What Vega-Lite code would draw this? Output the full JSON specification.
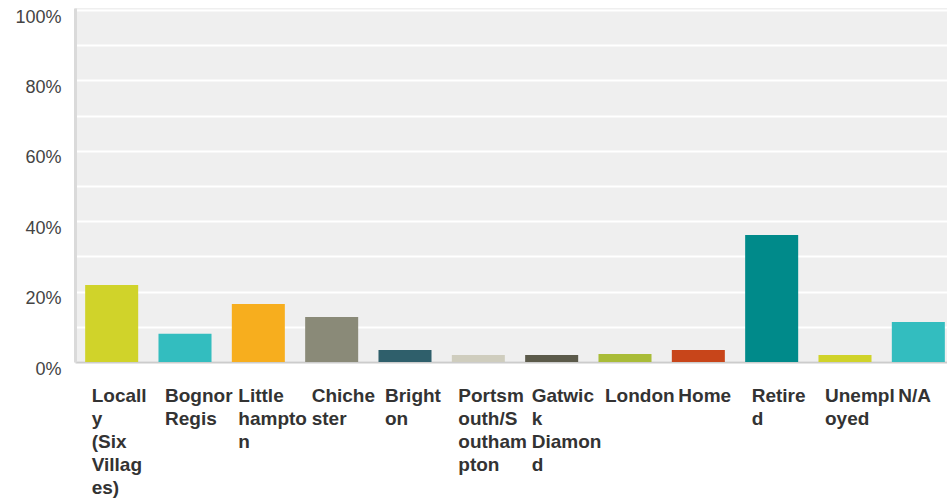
{
  "$schema": "https://vega.github.io/schema/vega-lite/v6.json",
  "width": 880,
  "height": 354,
  "autosize": "none",
  "padding": {"left": 75, "top": 8, "right": -8, "bottom": 139},
  "background": "white",
  "config": {
    "view": {"fill": "#EFEFEF", "stroke": null}
  },
  "data": {
    "values": [
      {"answer": "Locall|y|(Six|Villag|es)", "pct": 21.9},
      {"answer": "Bognor|Regis", "pct": 8.0},
      {"answer": "Little|hampto|n", "pct": 16.5},
      {"answer": "Chiche|ster", "pct": 12.8},
      {"answer": "Bright|on", "pct": 3.4},
      {"answer": "Portsm|outh/S|outham|pton", "pct": 2.0},
      {"answer": "Gatwic|k|Diamon|d", "pct": 2.0},
      {"answer": "London", "pct": 2.3},
      {"answer": "Home", "pct": 3.4},
      {"answer": "Retire|d", "pct": 36.1},
      {"answer": "Unempl|oyed", "pct": 2.0},
      {"answer": "N/A", "pct": 11.4}
    ]
  },
  "mark": {"type": "bar"},
  "encoding": {
    "x": {
      "field": "answer",
      "type": "nominal",
      "sort": null,
      "scale": {"paddingInner": 0.277, "paddingOuter": 0.1385},
      "axis": {
        "title": null,
        "ticks": false,
        "grid": false,
        "labelAngle": 0,
        "labelAlign": "left",
        "labelBaseline": "top",
        "labelOffset": -20,
        "labelPadding": 24,
        "labelLineHeight": 23,
        "labelFont": "Liberation Sans",
        "labelFontWeight": "bold",
        "labelFontSize": 19,
        "labelColor": "#333333",
        "labelOverlap": false,
        "labelBound": false,
        "labelLimit": 0,
        "labelExpr": "split(datum.label, '|')",
        "domainColor": "#CCCCCC",
        "domainWidth": 2
      }
    },
    "y": {
      "field": "pct",
      "type": "quantitative",
      "scale": {"domain": [0, 100.6], "nice": false},
      "axis": {
        "title": null,
        "values": [0, 10, 20, 30, 40, 50, 60, 70, 80, 90, 100],
        "labelExpr": "datum.value % 20 == 0 ? datum.value + '%' : ''",
        "ticks": false,
        "grid": true,
        "gridColor": "#FFFFFF",
        "gridWidth": 2,
        "gridOpacity": 1,
        "domainColor": "#DADADA",
        "domainWidth": 3,
        "labelPadding": 14,
        "labelOffset": 7,
        "labelFont": "Liberation Sans",
        "labelFontSize": 18,
        "labelColor": "#444444",
        "labelOverlap": false,
        "labelBound": false
      }
    },
    "color": {
      "field": "answer",
      "type": "nominal",
      "legend": null,
      "scale": {
        "domain": ["Locall|y|(Six|Villag|es)", "Bognor|Regis", "Little|hampto|n", "Chiche|ster", "Bright|on", "Portsm|outh/S|outham|pton", "Gatwic|k|Diamon|d", "London", "Home", "Retire|d", "Unempl|oyed", "N/A"],
        "range": ["#D0D32A", "#33BDBF", "#F7AE1E", "#8A8A78", "#2F5F6B", "#CFCDBE", "#5B5A4A", "#A9BC38", "#C8451A", "#008A8A", "#D0D32A", "#33BDBF"]
      }
    }
  }
}
